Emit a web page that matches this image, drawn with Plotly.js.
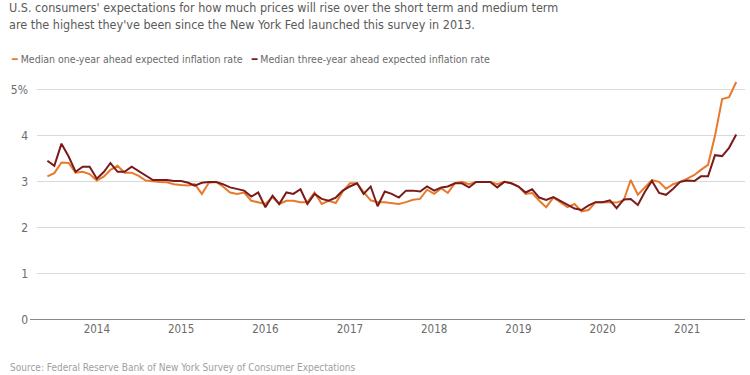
<!DOCTYPE html>
<html><head><meta charset="utf-8">
<script src="https://cdn.plot.ly/plotly-3.0.1.min.js"></script>
<style>html,body{margin:0;padding:0;background:#fff}#chart{width:750px;height:375px}</style>
</head><body><div id="chart"></div>
<script>
// Monthly series, June 2013 to August 2021
const startYear = 2013;
const startMonth = 6;
const oneYear = [
  3.12, 3.19, 3.42, 3.41, 3.20, 3.22, 3.17,
  3.03, 3.12, 3.26, 3.35, 3.20, 3.20, 3.13, 3.03, 3.01, 3.00, 2.99, 2.95,
  2.93, 2.92, 2.95, 2.74, 2.98, 3.00, 2.90, 2.77, 2.74, 2.77, 2.59, 2.56,
  2.52, 2.67, 2.52, 2.59, 2.59, 2.56, 2.56, 2.77, 2.52, 2.59, 2.54, 2.79,
  2.97, 2.97, 2.78, 2.60, 2.56, 2.56, 2.54, 2.52, 2.56, 2.61, 2.63, 2.83,
  2.74, 2.86, 2.76, 2.97, 3.00, 2.95, 3.00, 3.00, 3.00, 2.95, 3.00, 2.97,
  2.90, 2.74, 2.76, 2.59, 2.45, 2.66, 2.56, 2.45, 2.52, 2.36, 2.39, 2.56,
  2.56, 2.56, 2.55, 2.60, 3.04, 2.72, 2.88, 3.04, 3.00, 2.85, 2.95, 3.00,
  3.07, 3.15, 3.26, 3.37, 4.00, 4.80, 4.84, 5.17
];
const threeYear = [
  3.46, 3.35, 3.83, 3.55, 3.22, 3.33, 3.33,
  3.07, 3.22, 3.41, 3.22, 3.22, 3.33, 3.24, 3.13, 3.04, 3.04, 3.04, 3.02,
  3.02, 2.98, 2.92, 2.98, 3.00, 3.00, 2.95, 2.88, 2.85, 2.81, 2.68, 2.77,
  2.45, 2.70, 2.52, 2.77, 2.74, 2.84, 2.52, 2.74, 2.63, 2.59, 2.66, 2.81,
  2.90, 2.97, 2.74, 2.90, 2.47, 2.79, 2.74, 2.66, 2.81, 2.81, 2.79, 2.90,
  2.81, 2.88, 2.90, 2.97, 2.97, 2.88, 3.00, 3.00, 3.00, 2.88, 3.00, 2.97,
  2.90, 2.77, 2.84, 2.66, 2.61, 2.67, 2.59, 2.49, 2.42, 2.39, 2.49, 2.56,
  2.56, 2.60, 2.43, 2.62, 2.63, 2.50, 2.78, 3.02, 2.76, 2.72, 2.85, 3.00,
  3.03, 3.02, 3.12, 3.12, 3.58, 3.56, 3.74, 4.03
];
const seriesNames = [
  'Median one-year ahead expected inflation rate',
  'Median three-year ahead expected inflation rate'
];
const seriesColors = ['#e8792b', '#7a1b1b'];
const yTickValues = [0, 1, 2, 3, 4, 5];
const yTickLabels = ['0', '1', '2', '3', '4', '5%'];
const xTickYears = ['2014', '2015', '2016', '2017', '2018', '2019', '2020', '2021'];
const titleLines = [
  "U.S. consumers' expectations for how much prices will rise over the short term and medium term",
  "are the highest they've been since the New York Fed launched this survey in 2013."
];
const sourceText = 'Source: Federal Reserve Bank of New York Survey of Consumer Expectations';

const months = oneYear.map((_, i) => {
  const m0 = startMonth - 1 + i;
  const y = startYear + Math.floor(m0 / 12);
  const m = (m0 % 12) + 1;
  return y + '-' + String(m).padStart(2, '0') + '-01';
});

const FONT = '"DejaVu Sans Condensed", "DejaVu Sans", sans-serif';
const W = 750, H = 375, ML = 37, MR = 5, MT = 76, MB = 55;
const PW = W - ML - MR, PH = H - MT - MB;
const px = x => (x - ML) / PW;
const py = y => (H - MB - y) / PH;

const traces = [
  {x: months, y: oneYear, name: seriesNames[0], type: 'scatter', mode: 'lines',
   line: {color: seriesColors[0], width: 2}},
  {x: months, y: threeYear, name: seriesNames[1], type: 'scatter', mode: 'lines',
   line: {color: seriesColors[1], width: 2}}
];

const legendText = seriesNames.map((n, i) =>
  '<span style="color:' + seriesColors[i] + '">━</span> ' + n).join('   ');

const layout = {
  width: W, height: H,
  margin: {l: ML, r: MR, t: MT, b: MB, pad: 0},
  paper_bgcolor: '#fff', plot_bgcolor: '#fff',
  showlegend: false,
  font: {family: FONT, color: '#666', size: 12},
  xaxis: {
    type: 'date', range: ['2013-04-17', '2021-09-08'],
    tickvals: xTickYears.map(y => y + '-01-01'), ticktext: xTickYears,
    showgrid: false, zeroline: false, showline: false, ticks: '',
    tickfont: {family: FONT, size: 11.5, color: '#6b6b6b'}
  },
  yaxis: {
    range: [0, 5.3], tickvals: yTickValues, ticktext: yTickLabels,
    showgrid: true, gridcolor: '#d9d9d9', gridwidth: 1,
    zeroline: false, showline: false, ticks: '',
    ticklabelstandoff: 8,
    tickfont: {family: FONT, size: 12, color: '#6b6b6b'}
  },
  shapes: [
    {type: 'line', xref: 'paper', yref: 'y', x0: px(30), x1: 1, y0: 0, y1: 0,
     line: {color: '#8a8a8a', width: 2}, layer: 'below'}
  ],
  annotations: [
    {xref: 'paper', yref: 'paper', x: px(7), y: py(8), xanchor: 'left', yanchor: 'middle',
     text: titleLines[0], showarrow: false, font: {family: FONT, size: 12.5, color: '#5a5a5a'}},
    {xref: 'paper', yref: 'paper', x: px(7), y: py(25), xanchor: 'left', yanchor: 'middle',
     text: titleLines[1], showarrow: false, font: {family: FONT, size: 12.5, color: '#5a5a5a'}},
    {xref: 'paper', yref: 'paper', x: px(9), y: py(59), xanchor: 'left', yanchor: 'middle',
     text: legendText, showarrow: false, font: {family: FONT, size: 10.5, color: '#6b6b6b'}},
    {xref: 'paper', yref: 'paper', x: px(8), y: py(367), xanchor: 'left', yanchor: 'middle',
     text: sourceText, showarrow: false, font: {family: FONT, size: 10, color: '#a0a0a0'}}
  ]
};

Plotly.newPlot('chart', traces, layout, {displayModeBar: false, staticPlot: true});
</script>
</body></html>
